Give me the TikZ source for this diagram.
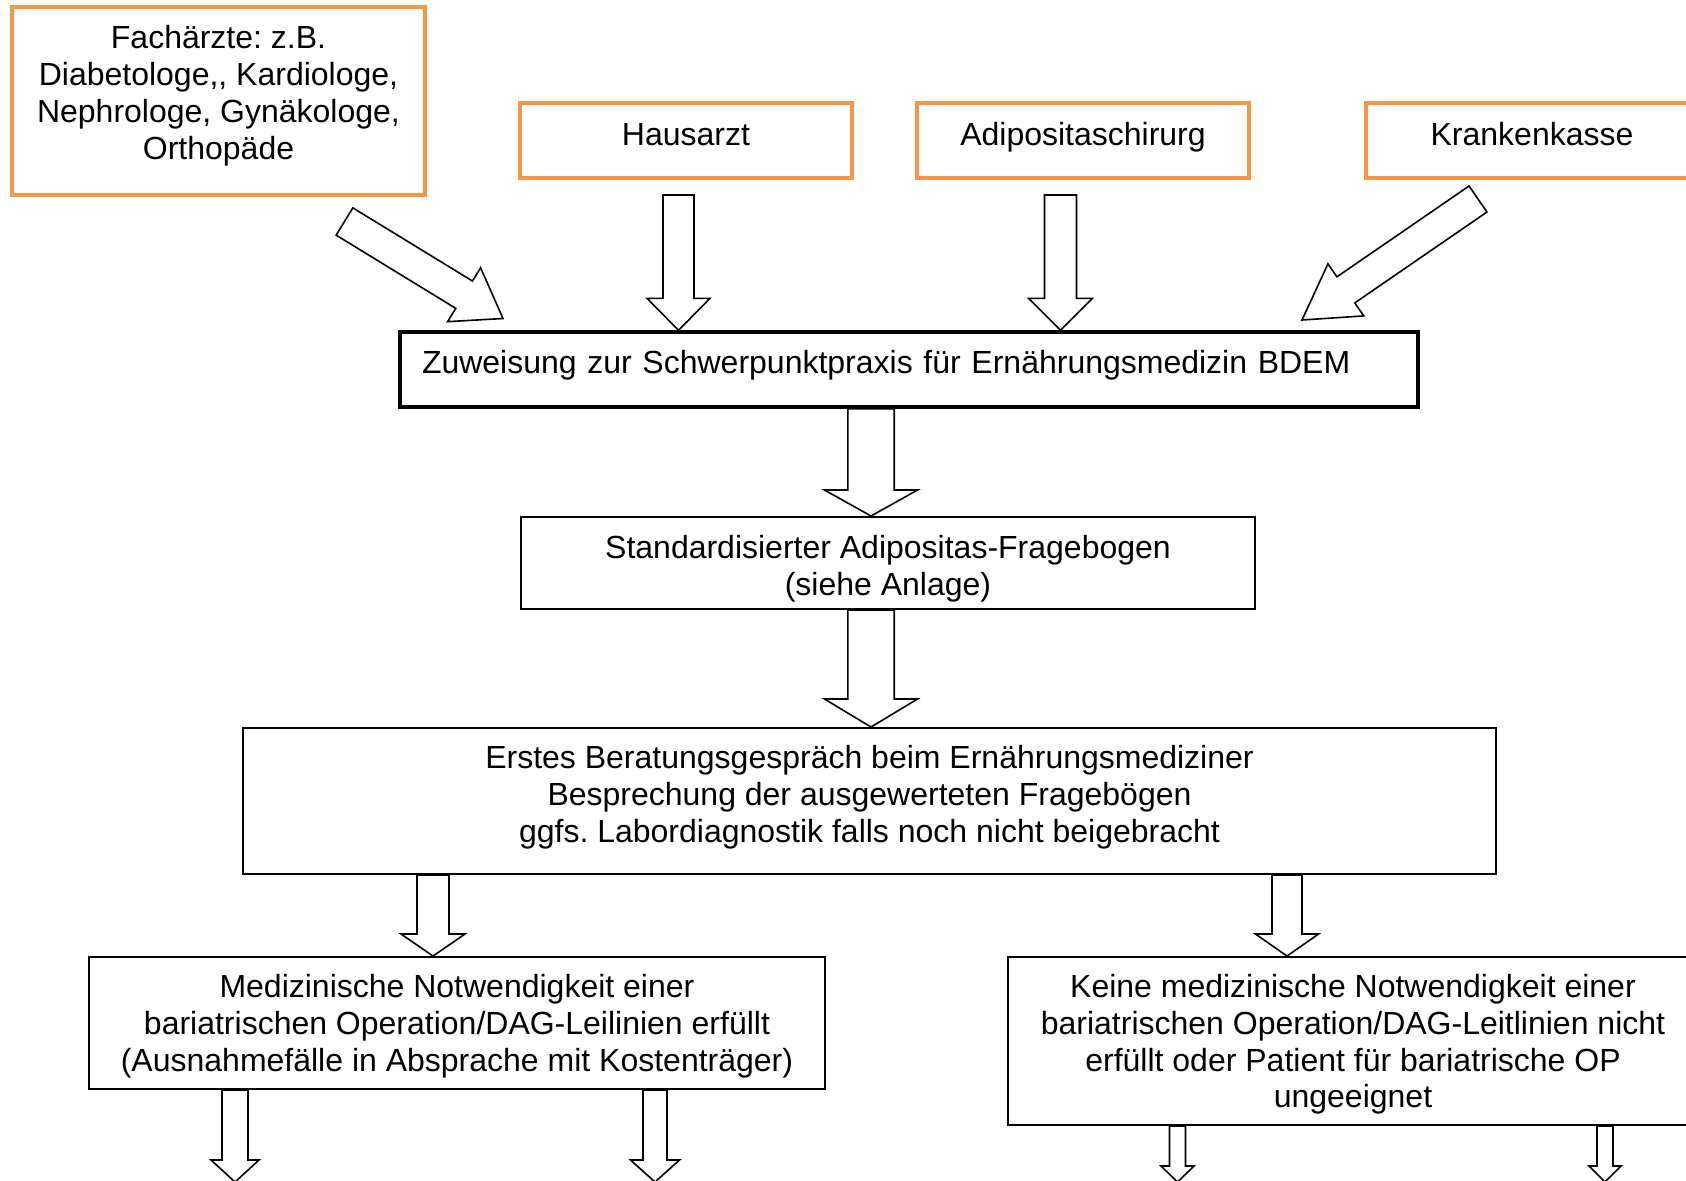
\documentclass[tikz,border=0pt]{standalone}
\usepackage{fontspec}
\setmainfont[Ligatures=TeXOff]{Liberation Sans}
\usetikzlibrary{calc}
\definecolor{boxorange}{HTML}{F79646}
% block arrow: tail, tip, shaft half width, head half width, head length
\newcommand{\barrow}[5]{%
  \draw[arr] ($(#1)!#3!90:(#2)$) -- ($(#2)!#5!(#1)!#3!-90:(#1)$) -- ($(#2)!#5!(#1)!#4!-90:(#1)$) -- (#2) -- ($(#2)!#5!(#1)!#4!90:(#1)$) -- ($(#2)!#5!(#1)!#3!90:(#1)$) -- ($(#1)!#3!-90:(#2)$) -- cycle;}
\frenchspacing
\begin{document}
\frenchspacing
\begin{tikzpicture}[x=0.5pt,y=-0.5pt,
  every node/.style={font=\fontsize{16pt}{18.4pt}\selectfont\frenchspacing, inner sep=0pt},
  obox/.style={draw=boxorange, line width=1.6pt},
  single/.style={text height=12pt, text depth=7pt},
  bbox/.style={draw=black, line width=1pt, align=center},
  arr/.style={draw=black, line width=0.8pt, fill=white, line join=miter}]
\useasboundingbox (0,0) rectangle (1686,1180);
\clip (0,0) rectangle (1686,1180);

% source boxes
\node[obox, align=center, minimum width=206.5pt, minimum height=94pt] (fach) at (218.5,101)
  {Fachärzte: z.B.\\Diabetologe,, Kardiologe,\\Nephrologe, Gynäkologe,\\Orthopäde\rule[-8.5pt]{0pt}{0pt}};
\node[obox, single, minimum width=166pt, minimum height=37.5pt] (haus) at (686,140.5) {Hausarzt};
\node[obox, single, minimum width=166pt, minimum height=37.5pt] (adip) at (1083,140.5) {Adipositaschirurg};
\node[obox, single, minimum width=166pt, minimum height=37.5pt] (kk) at (1532,140.5) {Krankenkasse};

% main flow
\node[draw=black, line width=1.7pt, text width=487pt, align=left, inner xsep=11pt,
      minimum height=37.5pt, text height=12pt, text depth=8pt] (zuw) at (909,369.5)
  {Zuweisung zur Schwerpunktpraxis für Ernährungsmedizin BDEM};
\node[bbox, minimum width=367pt, minimum height=46pt] (std) at (888,563)
  {\rule{0pt}{17pt}Standardisierter Adipositas-Fragebogen\\(siehe Anlage)};
\node[bbox, minimum width=626.5pt, minimum height=73pt] (erst) at (869.5,801)
  {Erstes Beratungsgespräch beim Ernährungsmediziner\\Besprechung der ausgewerteten Fragebögen\\ggfs. Labordiagnostik falls noch nicht beigebracht\rule[-7pt]{0pt}{0pt}};
\node[bbox, minimum width=368pt, minimum height=66pt] (med) at (457,1023)
  {\rule{0pt}{15pt}Medizinische Notwendigkeit einer\\bariatrischen Operation/DAG-Leilinien erfüllt\\(Ausnahmefälle in Absprache mit Kostenträger)};
\node[bbox, minimum width=345pt, minimum height=84pt] (keine) at (1353,1041)
  {\rule{0pt}{15pt}Keine medizinische Notwendigkeit einer\\bariatrischen Operation/DAG-Leitlinien nicht\\erfüllt oder Patient für bariatrische OP\\ungeeignet};

% arrow end points
\coordinate (fa1) at (344.5,221.5);
\coordinate (fa2) at (503,318.5);
\coordinate (ha1) at (678.5,195);
\coordinate (ha2) at (zuw.north -| ha1);
\coordinate (ad1) at (1060.5,195);
\coordinate (ad2) at (zuw.north -| ad1);
\coordinate (kk1) at (1478,199);
\coordinate (kk2) at (1302,320);
\path (871,0) coordinate (xa) (433,0) coordinate (xb) (1287,0) coordinate (xc)
      (235,0) coordinate (xd) (655,0) coordinate (xe) (1177.5,0) coordinate (xf) (1605,0) coordinate (xg)
      (0,1182) coordinate (ybot);
\coordinate (z1) at (zuw.south -| xa);
\coordinate (z2) at (std.north -| xa);
\coordinate (s1) at (std.south -| xa);
\coordinate (s2) at (erst.north -| xa);
\coordinate (e1) at (erst.south -| xb);
\coordinate (e2) at (med.north -| xb);
\coordinate (e3) at (erst.south -| xc);
\coordinate (e4) at (keine.north -| xc);
\coordinate (m1) at (med.south -| xd);
\coordinate (m2) at (ybot -| xd);
\coordinate (m3) at (med.south -| xe);
\coordinate (m4) at (ybot -| xe);
\coordinate (k1) at (keine.south -| xf);
\coordinate (k2) at (ybot -| xf);
\coordinate (k3) at (keine.south -| xg);
\coordinate (k4) at (ybot -| xg);

% block arrows
\barrow{fa1}{fa2}{8pt}{15.8pt}{22.8pt}
\barrow{ha1}{ha2}{7.75pt}{15.75pt}{16pt}
\barrow{ad1}{ad2}{8pt}{16pt}{16pt}
\barrow{kk1}{kk2}{7.9pt}{15.8pt}{26.6pt}
\barrow{z1}{z2}{11.6pt}{23.25pt}{13pt}
\barrow{s1}{s2}{11.6pt}{23.25pt}{14pt}
\barrow{e1}{e2}{8pt}{16pt}{11pt}
\barrow{e3}{e4}{7.5pt}{15.75pt}{11pt}
\barrow{m1}{m2}{6.5pt}{12pt}{11pt}
\barrow{m3}{m4}{6pt}{12.25pt}{11pt}
\barrow{k1}{k2}{4pt}{8.25pt}{8pt}
\barrow{k3}{k4}{4pt}{8pt}{8pt}
\end{tikzpicture}
\end{document}
